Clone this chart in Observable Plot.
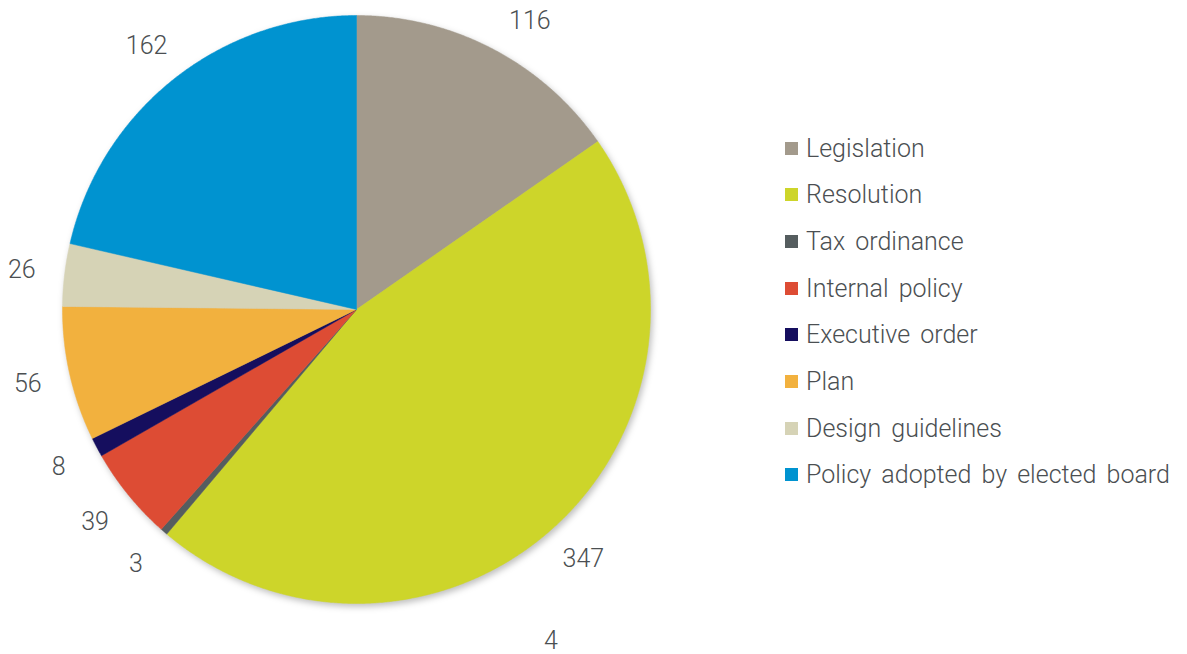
<!DOCTYPE html>
<html>
<head>
<meta charset="utf-8">
<script src="https://cdn.jsdelivr.net/npm/d3@7"></script>
<script src="https://cdn.jsdelivr.net/npm/@observablehq/plot@0.6"></script>
<style>
  html, body { margin: 0; padding: 0; background: #fff; }
  #wrap { position: relative; width: 1187px; height: 654px; font-family: Roboto, "Liberation Sans", sans-serif; }
  #legend { position: absolute; left: 785px; top: 125px; }
  .item { display: flex; align-items: center; height: 46.65px; font-size: 25px; font-weight: 300; color: #4b4f52; white-space: nowrap; word-spacing: 4px; }
  .sw { width: 13px; height: 13px; margin-right: 8px; flex: none; }
</style>
</head>
<body>
<div id="wrap"><div id="chart"></div><div id="legend"></div></div>
<script>
const categories = ["Legislation", "Resolution", "Tax ordinance", "Internal policy", "Executive order", "Plan", "Design guidelines", "Policy adopted by elected board"];
const values = [116, 347, 3, 39, 8, 56, 26, 162];
const colors = ["#a39a8c", "#cdd52a", "#555d5f", "#dd4c34", "#150e5e", "#f2b13e", "#d6d3b6", "#0093d0"];
const strayLabels = ["4"];

const W = 1187, H = 654, cx = 356, cy = 309, R = 294;
const pie = d3.pie().sort(null).value(d => d)(values);

// slice polygons in unit-radius coordinates
const pts = [];
pie.forEach((s, i) => {
  const n = Math.max(2, Math.ceil((s.endAngle - s.startAngle) / 0.005));
  pts.push({k: i, x: 0, y: 0});
  for (let j = 0; j <= n; j++) {
    const a = s.startAngle + (s.endAngle - s.startAngle) * j / n;
    pts.push({k: i, x: Math.sin(a), y: Math.cos(a)});
  }
  pts.push({k: i, x: 0, y: 0});
});
// outside-end labels, slid along their circle so they stay inside the frame
const labelPx = 337, minTop = 20;
const labels = pie.map((s, i) => {
  let a = (s.startAngle + s.endAngle) / 2;
  const cmax = (cy - minTop) / labelPx;
  if (Math.cos(a) > cmax) {
    const b = Math.acos(cmax);
    a = Math.sin(a) >= 0 ? b : 2 * Math.PI - b;
  }
  return {t: String(values[i]), x: Math.sin(a) * labelPx / R, y: Math.cos(a) * labelPx / R};
});
// stray label in the reference, below the Resolution label
const strayA = 149.6 * Math.PI / 180, strayR = 384 / R;
strayLabels.forEach(t => labels.push({t, x: Math.sin(strayA) * strayR, y: Math.cos(strayA) * strayR}));

const chart = Plot.plot({
  width: W, height: H,
  margin: 0,
  x: {domain: [-cx / R, (W - cx) / R], axis: null},
  y: {domain: [-(H - cy) / R, cy / R], axis: null},
  color: {domain: d3.range(categories.length), range: colors},
  marks: [
    Plot.line(pts, {x: "x", y: "y", z: "k", fill: "k", stroke: "k", strokeWidth: 0.5, curve: "linear"}),
    Plot.text(labels, {x: "x", y: "y", text: "t", fontSize: 25, fontWeight: 300, fill: "#4b4f52"})
  ],
  style: {fontFamily: "Roboto, 'Liberation Sans', sans-serif", background: "#fff"}
});
document.getElementById("chart").appendChild(chart);
const lineG = chart.querySelector('g[aria-label="line"]');
if (lineG) lineG.style.filter = "drop-shadow(2px 3px 3px rgba(0,0,0,0.25))";

const legend = document.getElementById("legend");
categories.forEach((c, i) => {
  const d = document.createElement("div");
  d.className = "item";
  d.innerHTML = `<span class="sw" style="background:${colors[i]}"></span><span>${c}</span>`;
  legend.appendChild(d);
});
</script>
</body>
</html>
